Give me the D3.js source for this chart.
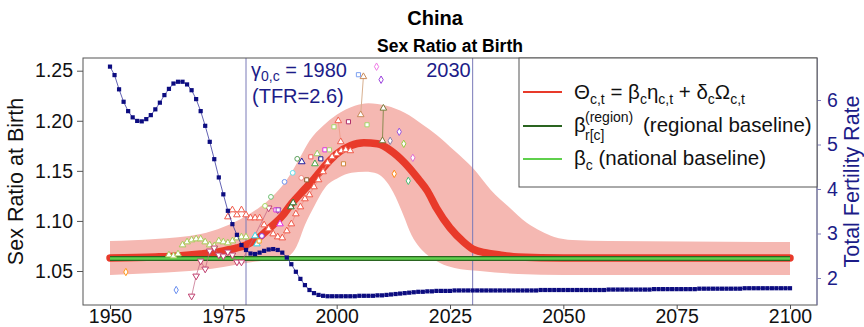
<!DOCTYPE html>
<html><head><meta charset="utf-8">
<script src="https://cdn.jsdelivr.net/npm/d3@7"></script>
<style>body{margin:0;background:#fff}svg{display:block;font-family:"Liberation Sans",Arial,sans-serif}</style>
</head><body>
<script>
// ---------- DATA ----------
const xTicks = [1950, 1975, 2000, 2025, 2050, 2075, 2100];
const yTicksLeft = [1.05, 1.10, 1.15, 1.20, 1.25];
const yTicksRight = [2, 3, 4, 5, 6];

const tfrStart = 1950;
const tfr = [
 6.75,6.56,6.24,5.96,5.75,5.61,5.53,5.52,5.57,5.66,
 5.79,5.94,6.11,6.25,6.37,6.41,6.41,6.35,6.22,6.02,
 5.75,5.42,5.06,4.67,4.26,3.88,3.51,3.21,2.97,2.74,
 2.63,2.55,2.54,2.57,2.61,2.64,2.65,2.63,2.57,2.46,
 2.31,2.14,1.98,1.84,1.73,1.66,1.62,1.60,1.59,1.59,
 1.59,1.59,1.59,1.59,1.59,1.60,1.60,1.60,1.60,1.61,
 1.61,1.62,1.63,1.64,1.65,1.66,1.67,1.68,1.69,1.69,
 1.70,1.70,1.71,1.71,1.71,1.71,1.72,1.72,1.72,1.72,
 1.72,1.72,1.72,1.72,1.72,1.72,1.72,1.72,1.72,1.72,
 1.72,1.72,1.72,1.72,1.72,1.73,1.73,1.73,1.73,1.73,
 1.73,1.73,1.73,1.73,1.73,1.73,1.73,1.73,1.73,1.73,
 1.74,1.74,1.74,1.74,1.74,1.74,1.74,1.74,1.74,1.74,
 1.75,1.75,1.75,1.75,1.75,1.75,1.75,1.75,1.75,1.75,
 1.76,1.76,1.76,1.76,1.76,1.76,1.76,1.76,1.76,1.76,
 1.77,1.77,1.77,1.77,1.77,1.77,1.77,1.77,1.77,1.77,1.77
];

const thetaYears = [1950,1960,1965,1970,1975,1978,1980,1983,1985,1988,1990,1993,1995,1998,2000,2003,2006,2009,2012,2015,2018,2020,2022,2025,2028,2030,2033,2036,2040,2050,2100];
const thetaMedian = [1.063,1.064,1.065,1.067,1.070,1.073,1.076,1.084,1.092,1.105,1.117,1.132,1.142,1.158,1.167,1.175,1.178,1.177,1.170,1.158,1.142,1.130,1.113,1.093,1.079,1.072,1.068,1.066,1.064,1.063,1.063];

const upperYears = [1950,1960,1970,1975,1980,1985,1988,1990,1992,1994,1997,2000,2004,2007,2011,2015,2019,2022,2026,2030,2034,2038,2042,2045,2048,2052,2060,2100];
const upperValues = [1.080,1.082,1.087,1.094,1.105,1.121,1.135,1.148,1.164,1.180,1.195,1.206,1.215,1.2175,1.215,1.208,1.196,1.186,1.170,1.153,1.131,1.114,1.098,1.090,1.084,1.081,1.080,1.079];

const lowerYears = [1950,1960,1970,1975,1980,1985,1988.6,1991.2,1993,1995.2,1997.4,2000.4,2003.3,2006.3,2009,2011,2013,2014.7,2016.5,2018.4,2020,2022.8,2026,2031.6,2040,2050,2100];
const lowerValues = [1.046,1.048,1.051,1.054,1.058,1.061,1.063,1.075,1.096,1.116,1.133,1.143,1.148,1.149,1.147,1.139,1.124,1.106,1.086,1.073,1.066,1.058,1.053,1.050,1.047,1.046,1.046];

const regionalBaseline = 1.0625;
const nationalBaseline = 1.0625;
const gammaYear = 1980;
const endYear = 2030;

// observation series
const redTriYears = [1976,1977,1978,1979,1980,1981,1982,1983,1984,1985,1986,1987,1988,1989,1990,1991,1992,1993,1994,1995,1996,1997,1998,1999,2000,2001,2002,2003];
const redTriValues = [1.104,1.111,1.106,1.111,1.106,1.103,1.103,1.103,1.096,1.092,1.087,1.084,1.083,1.090,1.097,1.107,1.114,1.122,1.126,1.134,1.141,1.149,1.158,1.164,1.167,1.170,1.171,1.170];

const greenTriYears = [1963,1964,1965,1966,1967,1968,1969,1970,1971,1972,1973,1974,1975,1976,1977,1978,1979,1980];
const greenTriValues = [1.066,1.065,1.067,1.076,1.079,1.081,1.082,1.082,1.079,1.076,1.075,1.080,1.079,1.078,1.080,1.083,1.084,1.084];

const downTriYears = [1968,1969,1970,1971,1972,1973,1974,1975,1976,1977,1978,1979,1985,1987];
const downTriValues = [1.025,1.045,1.060,1.052,1.070,1.073,1.066,1.065,1.069,1.066,1.059,1.059,1.113,1.111];

// paired observations joined by a line
const pairSources = ["pairRed","pairTan","pairOlive"];
const pairYears = [[2000.35,2000.9],[2005.9,2005.3],[2010.3,2010.1]];
const pairValues = [[1.200,1.179],[1.244,1.206],[1.2125,1.180]];

// single observations
const pointYears = [1953.5,1964.6,1982.0,1982.4,1982.9,1983.5,1984.2,1985.5,1986.6,1987.1,1987.5,1988.5,1989.9,1990.4,1990.3,1991.3,1992.3,1992.2,1993.4,1994.3,1995.2,1995.7,1996.5,1997.4,1998.4,1999.4,2001.5,2002.6,2006.7,2004.8,2008.8,2009.8,2011.8,2013.8,2014.8,2016.8,2012.7,2015.8];
const pointValues = [1.049,1.031,1.085,1.077,1.080,1.085,1.115,1.124,1.111,1.111,1.097,1.139,1.114,1.118,1.148,1.162,1.159,1.143,1.141,1.164,1.157,1.167,1.162,1.171,1.171,1.194,1.157,1.199,1.196,1.246,1.254,1.241,1.180,1.189,1.177,1.163,1.147,1.140];
const pointSources = ["orangeD","blueD","cyanT","cyanT","orangeS","violetC","ygreenC","greenC","magentaS","purpleS","magentaT","blueC","dgreenT","dgreenT","cyanC","mgreenC","navyT","salmonC","brownS","redS","greenT","lgreenT","navyS","magentaS","ygreenS","ygreenS","peruS","maroonS","ygreenS","blueS","violetD","purpleD","grayD","bvioletD","ygreenD","orchidD","orangeD2","seagreenD"];

// ---------- STYLES ----------
const markerStyle = {
  orangeD:["diamond","#ff9a1a"], blueD:["diamond","#6a8ff0"], cyanT:["triangle","#33d6e6"], orangeS:["square","#f0a020"],
  violetC:["circle","#8a3ee6"], ygreenC:["circle","#a8d860"], greenC:["circle","#6cc070"], magentaS:["square","#dd33dd"],
  purpleS:["square","#9b40c8"], magentaT:["triangle","#e030e0"], blueC:["circle","#6f95f0"], dgreenT:["triangle","#2f7a32"],
  cyanC:["circle","#66e0ee"], mgreenC:["circle","#5aa05a"], navyT:["triangle","#2020a0"], salmonC:["circle","#f28a80"],
  brownS:["square","#8b5a2b"], redS:["square","#f05a5a"], greenT:["triangle","#4aa84a"], lgreenT:["triangle","#9acc66"],
  navyS:["square","#1a1a90"], ygreenS:["square","#a6d66a"], peruS:["square","#d08a40"], maroonS:["square","#b0306a"],
  blueS:["square","#7da0f0"], violetD:["diamond","#f07ae6"], purpleD:["diamond","#9a40dd"], grayD:["diamond","#8a7ea8"],
  bvioletD:["diamond","#9a55dd"], ygreenD:["diamond","#9acc44"], orchidD:["diamond","#e070d0"], orangeD2:["diamond","#ff8c1a"],
  seagreenD:["diamond","#4cbf78"],
  pairRed:["triangle","#f06050","#f0a090"], pairTan:["triangle","#c88a5a","#d8b090"], pairOlive:["triangle","#7a7a3a","#8a8a50"]
};

// ---------- LAYOUT ----------
const W = 864, H = 327;
const box = {l:83, r:817, t:58, b:305};
const x = d3.scaleLinear().domain([1950, 2100]).range([110, 790]);
const yL = d3.scaleLinear().domain([1.05, 1.25]).range([271, 70.7]);
const yR = d3.scaleLinear().domain([2, 6]).range([278, 100]);
const NAVY = "#1c1c88";

const svg = d3.select("body").append("svg").attr("width", W).attr("height", H);
svg.append("rect").attr("width", W).attr("height", H).attr("fill", "#fff");

// ribbon: pink under upper bound, then white under lower bound
const upperPts = upperYears.map((d,i)=>[x(d), yL(upperValues[i])]);
const lowerPts = lowerYears.map((d,i)=>[x(d), yL(lowerValues[i])]);
const area = d3.area().x(d=>d[0]).y0(box.b-1).y1(d=>d[1]).curve(d3.curveMonotoneX);
svg.append("path").attr("d", area(upperPts)).attr("fill", "#f5b8b2");
svg.append("path").attr("d", area(lowerPts)).attr("fill", "#fff");

// vertical reference lines
[gammaYear, endYear].forEach(yr => {
  svg.append("line").attr("x1", x(yr)).attr("x2", x(yr)).attr("y1", box.t).attr("y2", box.b)
    .attr("stroke", "#7a7ab8").attr("stroke-width", 1);
});

// theta median
const line = d3.line().x(d=>d[0]).y(d=>d[1]);
svg.append("path")
  .attr("d", line.curve(d3.curveMonotoneX)(thetaYears.map((d,i)=>[x(d), yL(thetaMedian[i])])))
  .attr("fill","none").attr("stroke","#e83a2a").attr("stroke-width",7.5).attr("stroke-linecap","round").attr("stroke-linejoin","round");

// baselines
svg.append("line").attr("x1",x(1950)).attr("x2",x(2100)).attr("y1",yL(regionalBaseline)).attr("y2",yL(regionalBaseline))
  .attr("stroke","#2a6420").attr("stroke-width",5);
svg.append("line").attr("x1",x(1950)).attr("x2",x(2100)).attr("y1",yL(nationalBaseline)).attr("y2",yL(nationalBaseline))
  .attr("stroke","#5fd04c").attr("stroke-width",2.6);

// markers
const symbolOf = {triangle:d3.symbolTriangle, square:d3.symbolSquare, circle:d3.symbolCircle, diamond:d3.symbolDiamond};
const sizeOf = {triangle:19, square:17, circle:18, diamond:16};
function marker(g, shape, color, px, py, rot) {
  g.append("path").attr("d", d3.symbol().type(symbolOf[shape]).size(sizeOf[shape])())
    .attr("transform", `translate(${px},${py})` + (rot ? " rotate(180)" : ""))
    .attr("fill", "#fff").attr("stroke", color).attr("stroke-width", 1);
}
const obs = svg.append("g");
// connected series
obs.append("path").attr("d", d3.line().x((d,i)=>x(d)).y((d,i)=>yL(downTriValues[i]))(downTriYears))
  .attr("fill","none").attr("stroke","#c06080").attr("stroke-width",0.7);
obs.append("path").attr("d", d3.line().x((d,i)=>x(d)).y((d,i)=>yL(redTriValues[i]))(redTriYears))
  .attr("fill","none").attr("stroke","#f08a80").attr("stroke-width",0.7);
pairSources.forEach((s,k)=>{
  obs.append("line").attr("x1",x(pairYears[k][0])).attr("x2",x(pairYears[k][1]))
    .attr("y1",yL(pairValues[k][0])).attr("y2",yL(pairValues[k][1])).attr("stroke",markerStyle[s][2]).attr("stroke-width",1);
});
greenTriYears.forEach((d,i)=>marker(obs,"triangle","#a8cc5a",x(d),yL(greenTriValues[i])));
downTriYears.forEach((d,i)=>marker(obs,"triangle","#c04070",x(d),yL(downTriValues[i]),true));
redTriYears.forEach((d,i)=>marker(obs,"triangle","#f05a4a",x(d),yL(redTriValues[i])));
pairSources.forEach((s,k)=>{
  pairYears[k].forEach((yr,j)=>marker(obs,markerStyle[s][0],markerStyle[s][1],x(yr),yL(pairValues[k][j])));
});
pointYears.forEach((d,i)=>{
  const st = markerStyle[pointSources[i]];
  marker(obs, st[0], st[1], x(d), yL(pointValues[i]));
});

// TFR series
const tfrYears = tfr.map((d,i)=>tfrStart+i);
svg.append("path").attr("d", d3.line().x((d,i)=>x(tfrYears[i])).y(d=>yR(d))(tfr))
  .attr("fill","none").attr("stroke","#3a3aa0").attr("stroke-width",0.8);
svg.append("g").selectAll("rect").data(tfr).join("rect")
  .attr("x",(d,i)=>x(tfrYears[i])-2.1).attr("y",d=>yR(d)-2.1).attr("width",4.2).attr("height",4.2)
  .attr("fill","#0c0c80");

// plot box
svg.append("rect").attr("x",box.l).attr("y",box.t).attr("width",box.r-box.l).attr("height",box.b-box.t)
  .attr("fill","none").attr("stroke","#555").attr("stroke-width",1);

// axes
const axL = svg.append("g").attr("transform",`translate(${box.l},0)`)
  .call(d3.axisLeft(yL).tickValues(yTicksLeft).tickFormat(d3.format(".2f")).tickSize(6).tickPadding(4));
axL.select(".domain").remove();
axL.selectAll("line").attr("stroke","#555");
axL.selectAll("text").attr("font-size",19.5).attr("font-family","Liberation Sans, Arial").attr("fill","#111");

const axB = svg.append("g").attr("transform",`translate(0,${box.b})`)
  .call(d3.axisBottom(x).tickValues(xTicks).tickFormat(d3.format("d")).tickSize(4).tickPadding(0));
axB.select(".domain").remove();
axB.selectAll("line").attr("stroke","#555");
axB.selectAll("text").attr("font-size",19.5).attr("font-family","Liberation Sans, Arial").attr("fill","#111");

const axR = svg.append("g").attr("transform",`translate(${box.r},0)`)
  .call(d3.axisRight(yR).tickValues(yTicksRight).tickFormat(d3.format("d")).tickSize(4).tickPadding(6));
axR.select(".domain").attr("stroke","#8080b8").attr("d",`M0,${box.t}V${box.b}`);
axR.selectAll("line").attr("stroke","#8080b8");
axR.selectAll("text").attr("font-size",19.5).attr("font-family","Liberation Sans, Arial").attr("fill",NAVY);

// axis titles
const cy = (box.t+box.b)/2;
svg.append("text").attr("transform",`translate(23,${cy}) rotate(-90)`).attr("text-anchor","middle")
  .attr("font-size",21.5).attr("fill","#111").text("Sex Ratio at Birth");
svg.append("text").attr("transform",`translate(859,${cy}) rotate(-90)`).attr("text-anchor","middle")
  .attr("font-size",21.5).attr("fill",NAVY).text("Total Fertility Rate");

// titles
svg.append("text").attr("x",435).attr("y",25).attr("text-anchor","middle").attr("font-weight","bold")
  .attr("font-size",20).attr("fill","#000").text("China");
svg.append("text").attr("x",450).attr("y",52).attr("text-anchor","middle").attr("font-weight","bold")
  .attr("font-size",17.5).attr("fill","#000").text("Sex Ratio at Birth");

// gamma labels
const g1 = svg.append("text").attr("x",251).attr("y",77).attr("font-size",20).attr("fill",NAVY);
g1.append("tspan").text("γ");
g1.append("tspan").attr("font-size",14).attr("dy",4).text("0,c");
g1.append("tspan").attr("dy",-4).text(" = " + gammaYear);
svg.append("text").attr("x",252).attr("y",103).attr("font-size",20).attr("fill",NAVY).text("(TFR=" + tfr[gammaYear-tfrStart].toFixed(1) + ")");
svg.append("text").attr("x",x(endYear)-2).attr("y",77).attr("text-anchor","end").attr("font-size",20).attr("fill",NAVY).text(endYear);

// legend
const lg = svg.append("g");
lg.append("rect").attr("x",519).attr("y",box.t).attr("width",box.r-519).attr("height",187-box.t)
  .attr("fill","#fff").attr("stroke","#555").attr("stroke-width",1);
const legRows = [{y:92,c:"#e83a2a"},{y:126,c:"#2a6420"},{y:159,c:"#5fd04c"}];
legRows.forEach(r=>lg.append("line").attr("x1",523).attr("x2",562).attr("y1",r.y).attr("y2",r.y).attr("stroke",r.c).attr("stroke-width",2.2));
const fs = 20.5, sub = 14;
const t1 = lg.append("text").attr("x",574).attr("y",99).attr("font-size",fs).attr("fill","#111");
[["Θ",0],["c,t",1],[" = β",-1],["c",1],["η",-1],["c,t",1],[" + δ",-1],["c",1],["Ω",-1],["c,t",1]].forEach(p=>{
  const ts = t1.append("tspan").text(p[0]);
  if (p[1]===1) ts.attr("font-size",sub).attr("dy",5);
  if (p[1]===-1) ts.attr("dy",-5);
});
lg.append("text").attr("x",574).attr("y",132).attr("font-size",fs).attr("fill","#111").text("β");
lg.append("text").attr("x",585).attr("y",122).attr("font-size",sub).attr("fill","#111").text("(region)");
lg.append("text").attr("x",585).attr("y",140).attr("font-size",sub).attr("fill","#111").text("r[c]");
lg.append("text").attr("x",643).attr("y",132).attr("font-size",fs).attr("fill","#111").text("(regional baseline)");
const t3 = lg.append("text").attr("x",574).attr("y",165).attr("font-size",fs).attr("fill","#111");
t3.append("tspan").text("β");
t3.append("tspan").attr("font-size",sub).attr("dy",5).text("c");
t3.append("tspan").attr("dy",-5).text(" (national baseline)");
</script>
</body></html>
